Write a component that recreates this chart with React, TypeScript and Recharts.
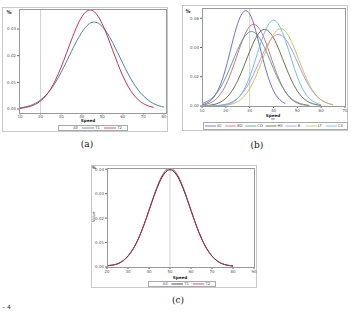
import React from "react";
import { LineChart, Line, XAxis, YAxis, ReferenceLine } from "recharts";

// panel (a)
const speedA = [10, 15, 20, 25, 30, 35, 40, 45, 50, 55, 60, 65, 70, 75, 80];
const t1A = [0.0004, 0.0013, 0.0034, 0.0074, 0.0137, 0.0216, 0.0287, 0.0325, 0.0309, 0.025, 0.0171, 0.0099, 0.0049, 0.002, 0.0007];
const t2A = [0.0002, 0.001, 0.003, 0.0076, 0.0157, 0.0259, 0.0345, 0.037, 0.0319, 0.0222, 0.0124, 0.0056, 0.002, 0.0006, null];
const ticksXA = [10, 20, 30, 40, 50, 60, 70, 80];
const ticksYA = [0, 0.01, 0.02, 0.03];

// panel (b)
const speedB = [10, 15, 20, 25, 30, 35, 40, 45, 50, 55, 60, 65, 70];
const acB = [0.0007, 0.0061, 0.0259, 0.0566, 0.063, 0.0358, 0.0104, 0.0015, null, null, null, null, null];
const edB = [0.0005, 0.0035, 0.0144, 0.0359, 0.0544, 0.0503, 0.0283, 0.0097, 0.002, 0.0003, null, null, null];
const cdB = [0.0015, 0.0066, 0.0196, 0.0387, 0.0507, 0.0441, 0.0255, 0.0097, 0.0025, 0.0004, null, null, null];
const hsB = [0.0001, 0.001, 0.0053, 0.0174, 0.0372, 0.0517, 0.0466, 0.0273, 0.0103, 0.0025, 0.0004, null, null];
const bB = [0.0, 0.0002, 0.0012, 0.0054, 0.0164, 0.0337, 0.0475, 0.0458, 0.0301, 0.0135, 0.0041, 0.0009, null];
const ltB = [0.0, 0.0, 0.0005, 0.003, 0.0118, 0.03, 0.0489, 0.0511, 0.0343, 0.0147, 0.0041, 0.0007, null];
const csB = [0.0, 0.0001, 0.0008, 0.0052, 0.0199, 0.0448, 0.0587, 0.0448, 0.0199, 0.0052, 0.0008, null, null];
const namesB = ["AC", "ED", "CD", "HS", "B", "LT", "CS"];
const colorsB = ["#6a5ad0", "#d0607a", "#3fa088", "#5f5f35", "#b58be0", "#c4c050", "#62b4e6"];
const ticksXB = [10, 20, 30, 40, 50, 60, 70];
const ticksYB = [0, 0.02, 0.04, 0.06];

// panel (c)
const speedC = [20, 25, 30, 35, 40, 45, 50, 55, 60, 65, 70, 75, 80];
const t1C = [0.0005, 0.0013, 0.0045, 0.0117, 0.0231, 0.0347, 0.0398, 0.0347, 0.0231, 0.0117, 0.0045, 0.0013, 0.0004];
const t2C = [0.0006, 0.0013, 0.0044, 0.0116, 0.0232, 0.0352, 0.0404, 0.0352, 0.0232, 0.0116, 0.0044, 0.0013, 0.0004];
const ticksXC = [20, 30, 40, 50, 60, 70, 80, 90];
const ticksYC = [0, 0.01, 0.02, 0.03, 0.04];

const dataA = speedA.map((s, i) => ({ speed: s, t1: t1A[i], t2: t2A[i] }));
const seriesB = [acB, edB, cdB, hsB, bB, ltB, csB];
const dataB = speedB.map((s, i) => {
  const row: Record<string, number | null> = { speed: s };
  namesB.forEach((n, k) => (row[n] = seriesB[k][i]));
  return row;
});
const dataC = speedC.map((s, i) => ({ speed: s, t1: t1C[i], t2: t2C[i] }));

const font = "'DejaVu Sans', sans-serif";
const tickStyle = { fontSize: 4, fill: "#555", fontFamily: font };
const fmt = (v: number) => v.toFixed(2);

const abs = (left: number, top: number, extra: React.CSSProperties = {}): React.CSSProperties => ({
  position: "absolute",
  left,
  top,
  ...extra,
});

function Frame({ l, t, w, h, color = "#c9c9c9" }: { l: number; t: number; w: number; h: number; color?: string }) {
  return <div style={abs(l, t, { width: w, height: h, border: `1px solid ${color}`, boxSizing: "border-box", pointerEvents: "none" })} />;
}

function Label({ l, t, text, size = 4.5, bold = false, w = 40 }: { l: number; t: number; text: string; size?: number; bold?: boolean; w?: number }) {
  return (
    <div style={abs(l - w / 2, t, { width: w, textAlign: "center", fontSize: size, fontFamily: font, fontWeight: bold ? 700 : 400, color: "#222", lineHeight: 1 })}>
      {text}
    </div>
  );
}

function Caption({ x, y, text }: { x: number; y: number; text: string }) {
  return (
    <div style={abs(x - 20, y, { width: 40, textAlign: "center", fontSize: 9, fontFamily: "'DejaVu Serif', serif", color: "#111", lineHeight: 1 })}>
      {text}
    </div>
  );
}

function LegendBox({ l, t, w, h, items }: { l: number; t: number; w: number; h: number; items: { name: string; color: string }[] }) {
  const step = (w - 4) / items.length;
  return (
    <svg style={abs(l, t)} width={w} height={h}>
      <rect x={0.5} y={0.5} width={w - 1} height={h - 1} fill="#fff" stroke="#aaa" />
      {items.map((it, i) => {
        const x0 = 2 + i * step;
        return (
          <g key={it.name}>
            <line x1={x0} x2={x0 + step * 0.55} y1={h / 2} y2={h / 2} stroke={it.color} strokeWidth={0.8} />
            <text x={x0 + step * 0.6} y={h / 2 + 1.4} fontSize={3.8} fontFamily={font} fill="#444">
              {it.name}
            </text>
          </g>
        );
      })}
    </svg>
  );
}

export default function App() {
  return (
    <div style={{ position: "absolute", left: 0, top: 0, width: 351, height: 313, background: "#fff", overflow: "hidden" }}>
      {/* (a) */}
      <Frame l={2} t={7} w={166} h={125} />
      <div style={abs(0, 0)}>
        <LineChart width={170} height={123} data={dataA} margin={{ top: 9, right: 4, bottom: 4, left: 0 }}>
          <XAxis dataKey="speed" type="number" domain={[9.5, 81]} ticks={ticksXA} tick={tickStyle} tickSize={1.5} tickMargin={0.5} height={6} axisLine={false} allowDataOverflow />
          <YAxis type="number" domain={[-0.0015, 0.0375]} ticks={ticksYA} tick={tickStyle} tickFormatter={fmt} tickSize={2} tickMargin={1} width={19} axisLine={false} allowDataOverflow />
          <ReferenceLine x={20} stroke="#c4c4c4" strokeWidth={0.8} />
          <Line dataKey="t1" type="natural" stroke="#4b82a8" strokeWidth={1} dot={false} isAnimationActive={false} />
          <Line dataKey="t2" type="natural" stroke="#c0344f" strokeWidth={1} dot={false} isAnimationActive={false} />
        </LineChart>
      </div>
      <Frame l={19} t={9} w={148} h={105} color="#999" />
      <Label l={9} t={10} text="%" size={5} bold />
      <Label l={88} t={119.3} text="Speed" size={4.2} bold w={20} />
      <LegendBox l={58} t={124.5} w={70} h={6} items={[{ name: "All", color: "#fff" }, { name: "T1", color: "#4b82a8" }, { name: "T2", color: "#c0344f" }]} />
      <Caption x={87} y={140} text="(a)" />

      {/* (b) */}
      <Frame l={182} t={5} w={166} h={126} />
      <div style={abs(175, 0)}>
        <LineChart width={175} height={112} data={dataB} margin={{ top: 8, right: 5, bottom: 0, left: 0 }}>
          <XAxis dataKey="speed" type="number" domain={[10, 70]} ticks={ticksXB} tick={tickStyle} tickSize={2} tickMargin={1} height={6} axisLine={false} />
          <YAxis type="number" domain={[0, 0.067]} ticks={ticksYB} tick={tickStyle} tickFormatter={fmt} tickSize={2} tickMargin={1} width={27} axisLine={false} allowDataOverflow />
          <ReferenceLine x={30} stroke="#c4c4c4" strokeWidth={0.8} />
          {namesB.map((n, k) => (
            <Line key={n} dataKey={n} type="natural" stroke={colorsB[k]} strokeWidth={0.9} dot={false} isAnimationActive={false} />
          ))}
        </LineChart>
      </div>
      <Frame l={202} t={8} w={144} h={99} color="#999" />
      <Label l={188} t={9} text="%" size={5} bold />
      <Label l={273} t={113.5} text="Speed" size={4.2} bold w={20} />
      <Label l={273} t={117.8} text="m" size={3.5} w={10} />
      <LegendBox l={203} t={121.5} w={145} h={8} items={namesB.map((n, k) => ({ name: n, color: colorsB[k] }))} />
      <Caption x={257} y={141} text="(b)" />

      {/* (c) */}
      <Frame l={91} t={165} w={166} h={123} />
      <div style={abs(90, 160)}>
        <LineChart width={170} height={115} data={dataC} margin={{ top: 8, right: 6, bottom: 2, left: 0 }}>
          <XAxis dataKey="speed" type="number" domain={[20, 90]} ticks={ticksXC} tick={tickStyle} tickSize={2} tickMargin={1} height={6} axisLine={false} />
          <YAxis type="number" domain={[0, 0.0405]} ticks={ticksYC} tick={tickStyle} tickFormatter={fmt} tickSize={2} tickMargin={1} width={17} axisLine={false} allowDataOverflow />
          <ReferenceLine x={50} stroke="#c4c4c4" strokeWidth={0.8} />
          <Line dataKey="t1" type="natural" stroke="#1d1f3e" strokeWidth={1} dot={false} isAnimationActive={false} />
          <Line dataKey="t2" type="natural" stroke="#b8324c" strokeWidth={1} dot={false} isAnimationActive={false} />
        </LineChart>
      </div>
      <Frame l={107} t={168} w={148} h={100} color="#999" />
      <Label l={94} t={166} text="%" size={4} bold w={6} />
      <div style={abs(84, 215, { width: 20, textAlign: "center", fontSize: 3.8, fontFamily: font, color: "#444", transform: "rotate(-90deg)", lineHeight: 1 })}>Value</div>
      <Label l={180} t={275.5} text="Speed" size={4.2} bold w={20} />
      <LegendBox l={148} t={280.5} w={68} h={6} items={[{ name: "All", color: "#fff" }, { name: "T1", color: "#1d1f3e" }, { name: "T2", color: "#b8324c" }]} />
      <Caption x={178} y={296} text="(c)" />

      <div style={abs(2, 304, { fontSize: 6, fontFamily: font, color: "#333", lineHeight: 1 })}>– 4</div>
    </div>
  );
}
